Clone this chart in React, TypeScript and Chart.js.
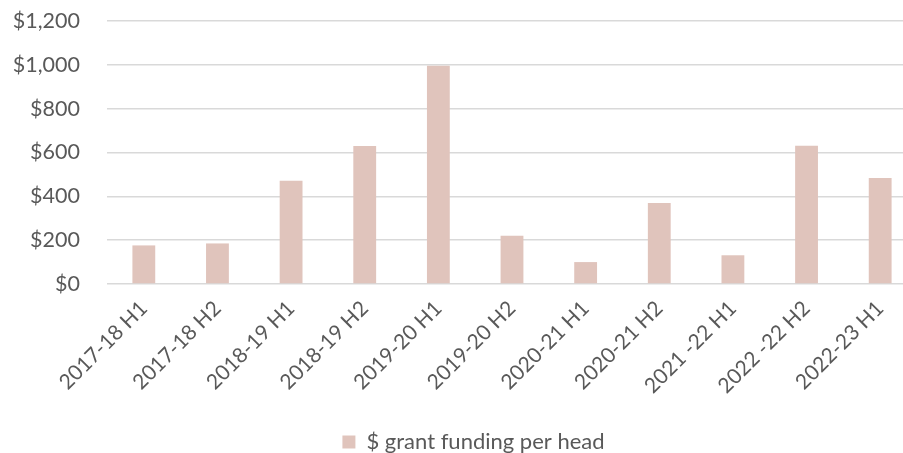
import React, { useEffect, useRef } from "react";
import { Chart, registerables } from "chart.js";

Chart.register(...registerables);

const categories: string[] = [
  "2017-18 H1",
  "2017-18 H2",
  "2018-19 H1",
  "2018-19 H2",
  "2019-20 H1",
  "2019-20 H2",
  "2020-21 H1",
  "2020-21 H2",
  "2021 -22 H1",
  "2022 -22 H2",
  "2022-23 H1",
];

const grantPerHead: number[] = [176, 185, 471, 629, 996, 220, 100, 369, 131, 631, 483];

const yTicks: number[] = [0, 200, 400, 600, 800, 1000, 1200];

const seriesLabel = "$ grant funding per head";

const shiftLegend = {
  id: "shiftLegend",
  afterLayout(chart: any) {
    const l = chart.legend;
    if (l) {
      l.left += 15;
      l.right += 15;
    }
  },
};

export default function App() {
  const ref = useRef<HTMLCanvasElement | null>(null);

  useEffect(() => {
    if (!ref.current) return;
    const font = "Lato, 'Open Sans', sans-serif";
    const chart = new Chart(ref.current, {
      type: "bar",
      data: {
        labels: categories,
        datasets: [
          {
            label: seriesLabel,
            data: grantPerHead,
            backgroundColor: "#e0c4bc",
            borderWidth: 0,
            categoryPercentage: 1,
            barPercentage: 0.31,
          },
        ],
      },
      plugins: [shiftLegend],
      options: {
        animation: false,
        responsive: true,
        maintainAspectRatio: false,
        layout: { padding: { top: 0, left: 0, right: 0, bottom: 0 } },
        plugins: {
          tooltip: { enabled: false },
          legend: {
            position: "bottom",
            labels: {
              color: "#595959",
              font: { family: font, size: 22 },
              boxWidth: 13,
              boxHeight: 13,
              padding: 8,
            },
          },
        },
        scales: {
          x: {
            grid: { display: false },
            border: { display: false },
            ticks: {
              color: "#595959",
              font: { family: font, size: 21 },
              minRotation: 45,
              maxRotation: 45,
              padding: 4,
              autoSkip: false,
            },
            afterFit: (scale: any) => {
              scale.height = 139;
            },
          },
          y: {
            min: 0,
            max: 1200,
            afterBuildTicks: (scale: any) => {
              scale.ticks = yTicks.map((v) => ({ value: v }));
            },
            grid: { color: "#d9d9d9", lineWidth: 1.5, drawTicks: false },
            border: { display: false },
            ticks: {
              color: "#595959",
              font: { family: font, size: 21.5 },
              padding: 27,
              callback: (v: any) => "$" + Number(v).toLocaleString("en-US"),
            },
            afterFit: (scale: any) => {
              scale.width = 107;
            },
          },
        },
      },
    });
    return () => chart.destroy();
  }, []);

  return (
    <div style={{ position: "fixed", left: 0, top: 0, width: 903, height: 453, overflow: "hidden", background: "#fff" }}>
      <div style={{ position: "absolute", left: 0, top: -19, width: 917, height: 482 }}>
        <canvas ref={ref} />
      </div>
    </div>
  );
}
